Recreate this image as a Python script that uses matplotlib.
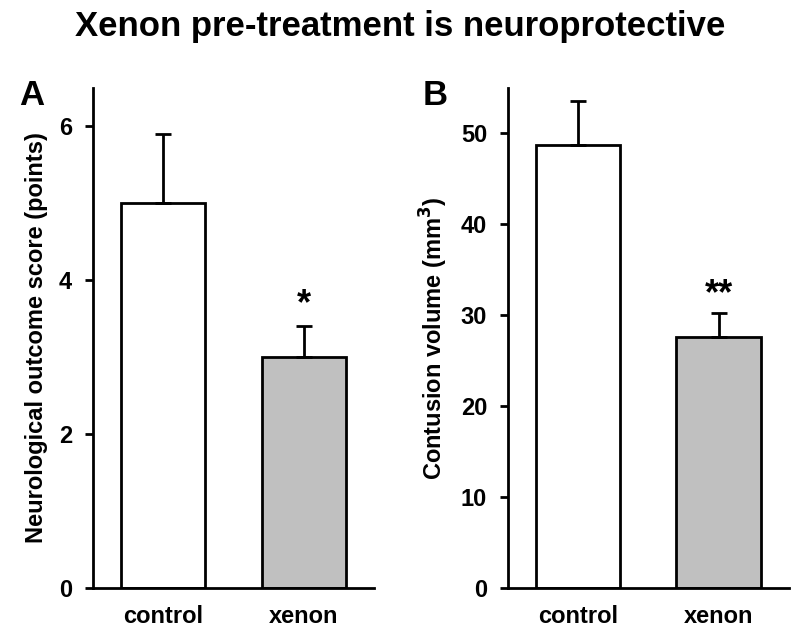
import matplotlib.pyplot as plt

plt.rcParams['font.family'] = ['Liberation Sans', 'DejaVu Sans']
plt.rcParams['font.weight'] = 'bold'

# Data
groups = ['control', 'xenon']
score_mean = [5.0, 3.0]
score_err = [0.9, 0.4]
volume_mean = [48.7, 27.6]
volume_err = [4.9, 2.7]
colors = ['white', '#c0c0c0']

fig = plt.figure(figsize=(8, 6.44), dpi=100)
fig.suptitle('Xenon pre-treatment is neuroprotective', fontsize=25,
             fontweight='bold', y=0.985)

axA = fig.add_axes([0.116, 0.087, 0.3515, 0.7764])
axB = fig.add_axes([0.635, 0.087, 0.351, 0.7764])


def panel(ax, means, errs, ylim, ticks, ylabel, star, star_y, letter, lx):
    x = range(len(groups))
    ax.bar(x, means, width=0.6, color=colors, edgecolor='black', linewidth=2)
    ax.errorbar(x, means, yerr=[[0] * len(errs), errs], fmt='none',
                ecolor='black', elinewidth=2, capsize=6, capthick=2)
    ax.text(1, star_y, star, ha='center', va='center', fontsize=26,
            fontweight='bold')
    ax.set_xlim(-0.5, 1.5)
    ax.set_ylim(*ylim)
    ax.set_yticks(ticks)
    ax.set_xticks(list(x))
    ax.set_xticklabels(groups)
    ax.tick_params(axis='y', length=6, width=2, labelsize=17, pad=9)
    ax.tick_params(axis='x', length=0, labelsize=17, pad=12)
    ax.spines['top'].set_visible(False)
    ax.spines['right'].set_visible(False)
    ax.spines['left'].set_linewidth(2)
    ax.spines['bottom'].set_linewidth(2)
    ax.set_ylabel(ylabel, fontsize=17, fontweight='bold', labelpad=8)
    fig.text(lx, 0.852, letter, fontsize=25, fontweight='bold', va='center')


panel(axA, score_mean, score_err, (0, 6.5), [0, 2, 4, 6],
      'Neurological outcome score (points)', '*', 3.68, 'A', 0.024)
panel(axB, volume_mean, volume_err, (0, 55), [0, 10, 20, 30, 40, 50],
      r'Contusion volume (mm$^\mathbf{3}$)', '**', 32.3, 'B', 0.528)

fig.savefig('out.png', dpi=100)
